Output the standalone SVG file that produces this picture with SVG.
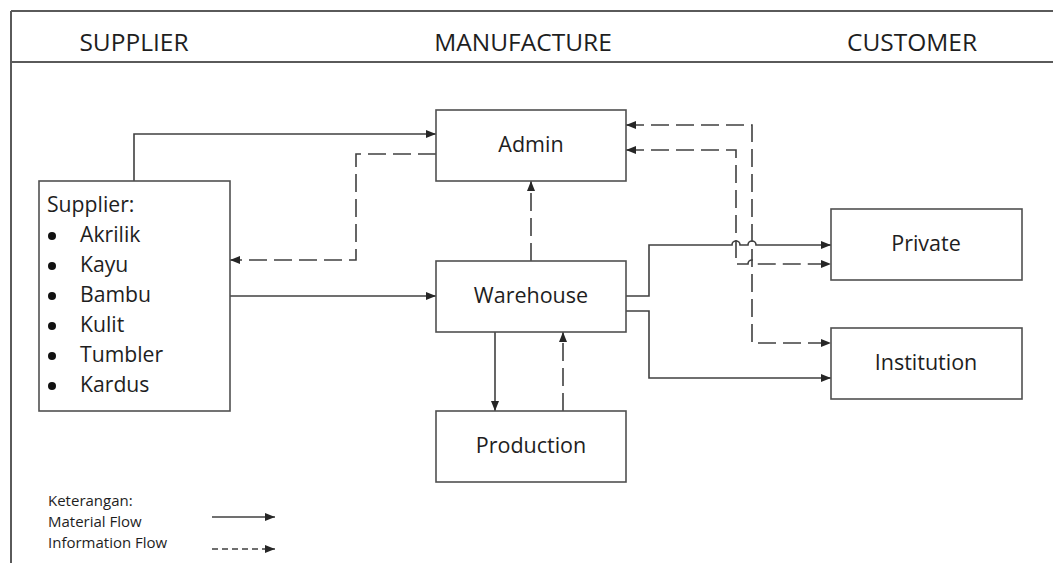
<svg xmlns="http://www.w3.org/2000/svg" width="1053" height="563" viewBox="0 0 1053 563">
<style>
.frame{fill:none;stroke:#5a5a5a;stroke-width:2}
.box{fill:#fff;stroke:#505050;stroke-width:1.6}
.solid{fill:none;stroke:#404040;stroke-width:1.6}
.dash{fill:none;stroke:#404040;stroke-width:1.6;stroke-dasharray:18 7}
.ldash{fill:none;stroke:#404040;stroke-width:1.6;stroke-dasharray:6 4}
.title{font-family:"Open Sans","Liberation Sans",sans-serif;font-size:24.5px;fill:#1e1e1e;text-anchor:middle}
.lbl{font-family:"Open Sans","Liberation Sans",sans-serif;font-size:21.5px;fill:#1e1e1e;text-anchor:middle}
.item{font-family:"Open Sans","Liberation Sans",sans-serif;font-size:21.2px;fill:#1e1e1e}
.leg{font-family:"Open Sans","Liberation Sans",sans-serif;font-size:15px;fill:#1e1e1e}
</style>
<defs>
<marker id="ah" viewBox="0 0 10 8" refX="10" refY="4" markerWidth="10" markerHeight="8" markerUnits="userSpaceOnUse" orient="auto-start-reverse">
<path d="M0,0 L10,4 L0,8 z" fill="#262626"/>
</marker>
</defs>
<rect width="1053" height="563" fill="#fff"/>
<g id="frame">
<path class="frame" d="M11,11 H1053 M11,11 V563 M11,62 H1053"/>
<text class="title" x="134" y="51">SUPPLIER</text>
<text class="title" x="523" y="51">MANUFACTURE</text>
<text class="title" x="912" y="51">CUSTOMER</text>
</g>
<g id="connectors">
<path class="solid" d="M134,181 V134 H436" marker-end="url(#ah)"/>
<path class="dash" d="M436,154 H356 V260 H230" marker-end="url(#ah)"/>
<path class="solid" d="M230,296 H436" marker-end="url(#ah)"/>
<path class="dash" d="M531,261 V181" marker-end="url(#ah)"/>
<path class="solid" d="M495,332 V411" marker-end="url(#ah)"/>
<path class="dash" d="M563,411 V332" marker-end="url(#ah)"/>
<path class="solid" d="M626,296 H649 V245 H732 A4,4 0 0 1 740,245 H748 A4,4 0 0 1 756,245 H831" marker-end="url(#ah)"/>
<path class="solid" d="M626,311 H649 V378 H831" marker-end="url(#ah)"/>
<path class="dash" d="M626,150 H736 V264 H748 A4,4 0 0 1 756,264 H831" marker-start="url(#ah)" marker-end="url(#ah)"/>
<path class="dash" d="M626,125 H752 V343 H831" marker-start="url(#ah)" marker-end="url(#ah)"/>
</g>
<g id="supplier">
<rect class="box" x="39" y="181" width="191" height="230"/>
<text class="item" x="47" y="212">Supplier:</text>
<g fill="#111">
<circle cx="52" cy="236" r="4"/>
<circle cx="52" cy="266" r="4"/>
<circle cx="52" cy="296" r="4"/>
<circle cx="52" cy="326" r="4"/>
<circle cx="52" cy="356" r="4"/>
<circle cx="52" cy="386" r="4"/>
</g>
<text class="item" x="80" y="242">Akrilik</text>
<text class="item" x="80" y="272">Kayu</text>
<text class="item" x="80" y="302">Bambu</text>
<text class="item" x="80" y="332">Kulit</text>
<text class="item" x="80" y="362">Tumbler</text>
<text class="item" x="80" y="392">Kardus</text>
</g>
<g id="admin">
<rect class="box" x="436" y="110" width="190" height="71"/>
<text class="lbl" x="531" y="152">Admin</text>
</g>
<g id="warehouse">
<rect class="box" x="436" y="261" width="190" height="71"/>
<text class="lbl" x="531" y="303">Warehouse</text>
</g>
<g id="production">
<rect class="box" x="436" y="411" width="190" height="71"/>
<text class="lbl" x="531" y="453">Production</text>
</g>
<g id="private">
<rect class="box" x="831" y="209" width="191" height="71"/>
<text class="lbl" x="926" y="251">Private</text>
</g>
<g id="institution">
<rect class="box" x="831" y="328" width="191" height="71"/>
<text class="lbl" x="926" y="370">Institution</text>
</g>
<g id="legend">
<text class="leg" x="48" y="506">Keterangan:</text>
<text class="leg" x="48" y="527">Material Flow</text>
<text class="leg" x="48" y="548">Information Flow</text>
<path class="solid" d="M212,517 H275" marker-end="url(#ah)"/>
<path class="ldash" d="M212,549 H275" marker-end="url(#ah)"/>
</g>
</svg>
